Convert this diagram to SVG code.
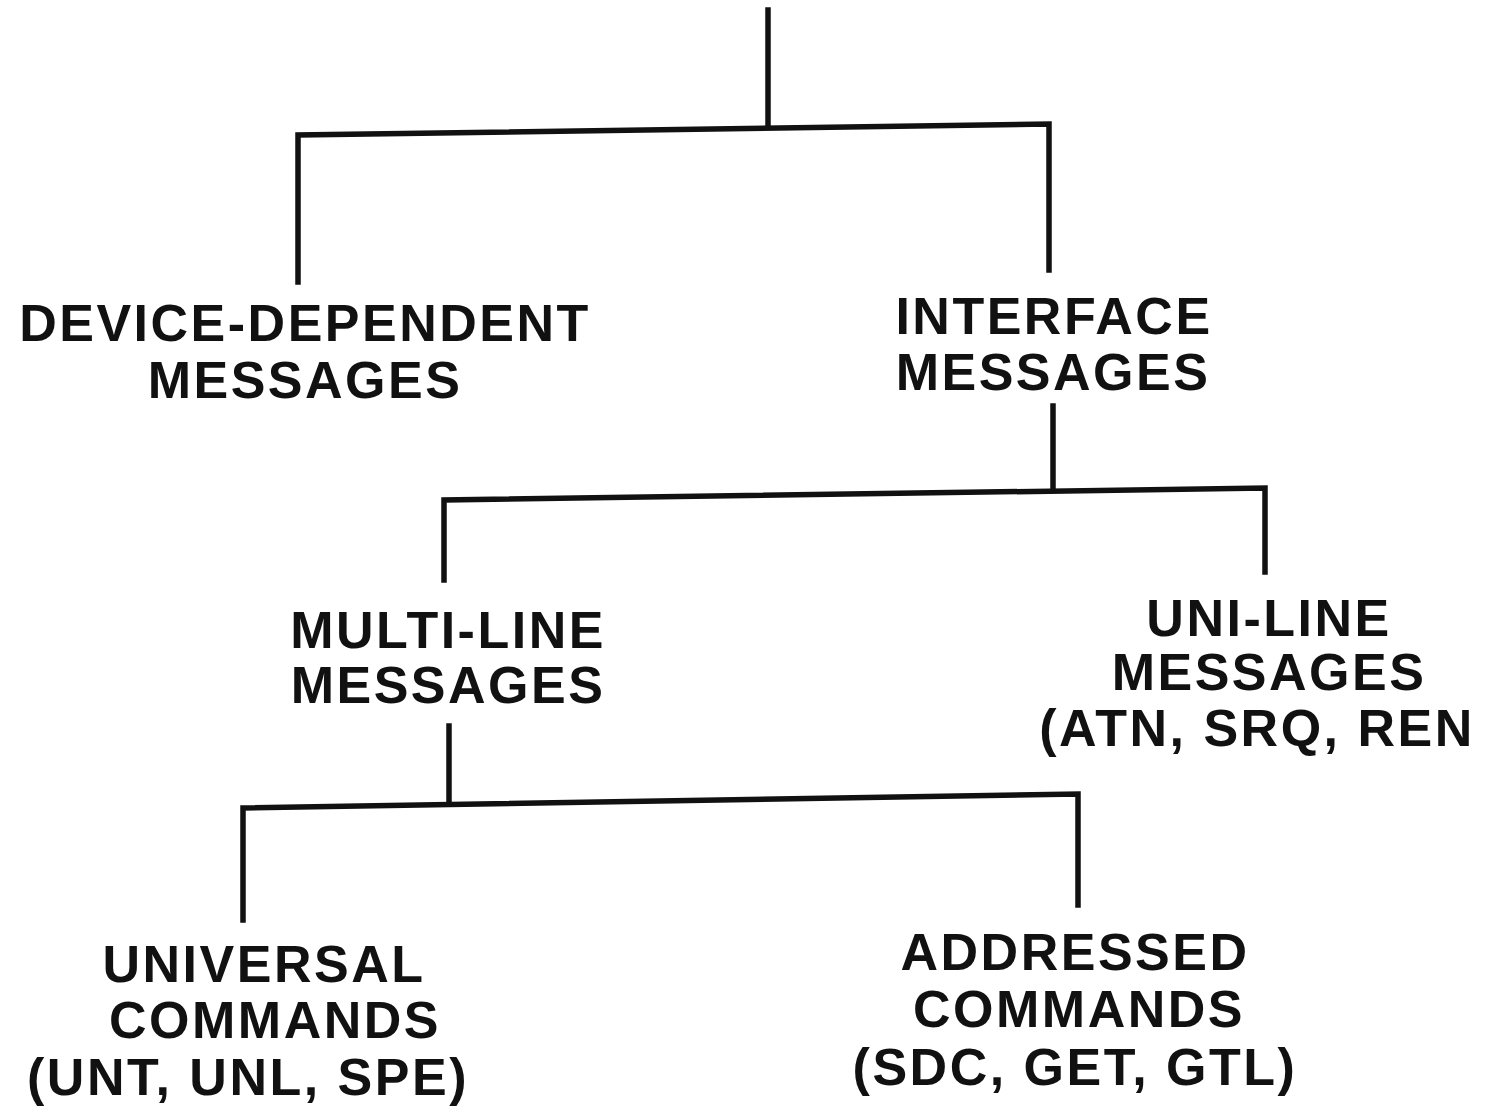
<svg xmlns="http://www.w3.org/2000/svg" width="1488" height="1106" viewBox="0 0 1488 1106">
<style>
.bg{fill:#fff}
.c{fill:none;stroke:#111;stroke-width:5.5;stroke-linecap:square;stroke-linejoin:miter}
text{font-family:"Liberation Sans",Arial,sans-serif;font-weight:bold;font-size:52px;letter-spacing:2.5px;fill:#111;text-anchor:middle}
</style>
<rect class="bg" x="0" y="0" width="1488" height="1106"/>
<g id="connectors">
<path class="c" d="M768 10 V126"/>
<path class="c" d="M298 282 V135 L1049 124 V270"/>
<path class="c" d="M1053 406 V490"/>
<path class="c" d="M444 580 V500 L1265 488 V572"/>
<path class="c" d="M449 726 V800"/>
<path class="c" d="M243 920 V808 L1078 794 V905"/>
</g>
<g id="device-dependent">
<text x="305" y="341">DEVICE-DEPENDENT</text>
<text x="305" y="398">MESSAGES</text>
</g>
<g id="interface">
<text x="1054" y="334">INTERFACE</text>
<text x="1053" y="390">MESSAGES</text>
</g>
<g id="multi-line">
<text x="448" y="648">MULTI-LINE</text>
<text x="448" y="703">MESSAGES</text>
</g>
<g id="uni-line">
<text x="1269" y="636">UNI-LINE</text>
<text x="1269" y="690">MESSAGES</text>
<text x="1257" y="746">(ATN, SRQ, REN</text>
</g>
<g id="universal">
<text x="264" y="982">UNIVERSAL</text>
<text x="275" y="1038">COMMANDS</text>
<text x="248" y="1095">(UNT, UNL, SPE)</text>
</g>
<g id="addressed">
<text x="1075" y="970">ADDRESSED</text>
<text x="1079" y="1027">COMMANDS</text>
<text x="1075" y="1085">(SDC, GET, GTL)</text>
</g>
</svg>
